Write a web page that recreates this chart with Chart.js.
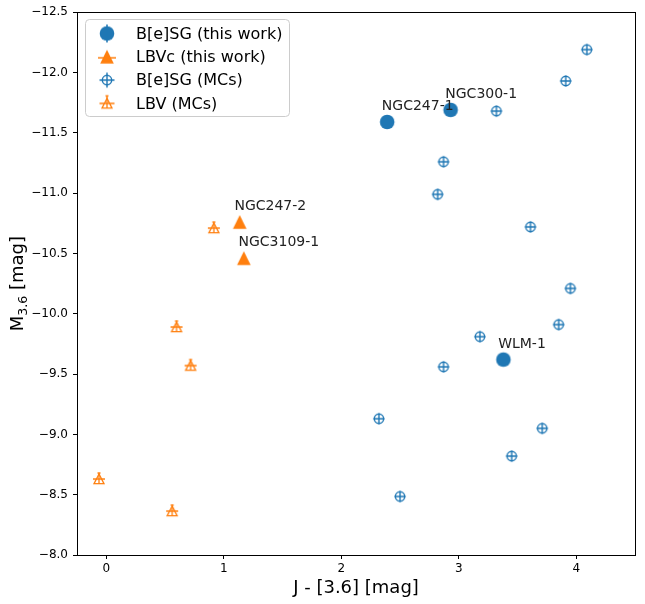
<!DOCTYPE html>
<html>
<head>
<meta charset="utf-8">
<script src="https://cdn.jsdelivr.net/npm/chart.js@4.4.1/dist/chart.umd.min.js"></script>
<style>
    html, body { margin: 0; padding: 0; background: #fff; }
    #wrap { width: 645px; height: 604px; position: relative; }
</style>
</head>
<body>
<div id="wrap"><canvas id="chart"></canvas></div>
<script>
// values
const besgThisWorkNames = ['NGC247-1', 'NGC300-1', 'WLM-1'];
const besgThisWorkX = [2.39, 2.93, 3.38];
const besgThisWorkY = [-11.59, -11.69, -9.62];

const lbvcThisWorkNames = ['NGC247-2', 'NGC3109-1'];
const lbvcThisWorkX = [1.135, 1.17];
const lbvcThisWorkY = [-10.76, -10.46];

const besgMCsX = [4.09, 3.91, 3.32, 2.87, 2.82, 3.61, 3.95, 3.85, 3.18, 2.87, 2.32, 3.71, 2.50, 3.45];
const besgMCsY = [-12.19, -11.93, -11.68, -11.26, -10.99, -10.72, -10.21, -9.91, -9.81, -9.56, -9.13, -9.05, -8.485, -8.82];

const lbvMCsX = [-0.063, 0.56, 0.915, 0.597, 0.717];
const lbvMCsY = [-8.63, -8.364, -10.71, -9.89, -9.57];

const xTicks = [0, 1, 2, 3, 4];
const yTicks = [-12.5, -12.0, -11.5, -11.0, -10.5, -10.0, -9.5, -9.0, -8.5, -8.0];

const legendLabels = ['B[e]SG (this work)', 'LBVc (this work)', 'B[e]SG (MCs)', 'LBV (MCs)'];

const BLUE = '#1f77b4';
const ORANGE = '#ff7f0e';
const FONT = "'DejaVu Sans', sans-serif";

Chart.defaults.font.family = FONT;

function markerCanvas(draw) {
    const c = document.createElement('canvas');
    c.width = 26;
    c.height = 26;
    const g = c.getContext('2d');
    g.translate(13, 13);
    g.lineCap = 'butt';
    draw(g);
    return c;
}

function dot(g) {
    g.fillStyle = BLUE;
    g.beginPath();
    g.arc(0, 0, 7.3, 0, Math.PI * 2);
    g.fill();
}
function tri(g) {
    g.fillStyle = ORANGE;
    g.beginPath();
    g.moveTo(0, -7);
    g.lineTo(-6.8, 6.8);
    g.lineTo(6.8, 6.8);
    g.closePath();
    g.fill();
}
function ring(g, ext) {
    g.strokeStyle = BLUE;
    g.lineWidth = 1.4;
    g.beginPath();
    g.arc(0, 0, 4.7, 0, Math.PI * 2);
    g.stroke();
    g.beginPath();
    g.moveTo(-ext, 0); g.lineTo(ext, 0);
    g.moveTo(0, -ext); g.lineTo(0, ext);
    g.stroke();
}
function openTri(g, ext) {
    g.strokeStyle = ORANGE;
    g.lineWidth = 1.3;
    g.beginPath();
    g.moveTo(0, -5);
    g.lineTo(-5, 4.6);
    g.lineTo(5, 4.6);
    g.closePath();
    g.stroke();
    g.beginPath();
    g.moveTo(0, -ext); g.lineTo(0, 4.6);
    g.moveTo(-ext, 0); g.lineTo(ext, 0);
    g.moveTo(-1.5, -ext); g.lineTo(1.5, -ext);
    g.stroke();
}

const dotMarker = markerCanvas(dot);
const triMarker = markerCanvas(tri);
const ringMarker = markerCanvas(g => ring(g, 5.5));
const openTriMarker = markerCanvas(g => openTri(g, 6));

const legendMarkers = [
    markerCanvas(g => {
        dot(g);
        g.strokeStyle = BLUE; g.lineWidth = 1.5;
        g.beginPath(); g.moveTo(0, -9); g.lineTo(0, 9); g.stroke();
    }),
    markerCanvas(g => {
        tri(g);
        g.strokeStyle = ORANGE; g.lineWidth = 1.5;
        g.beginPath(); g.moveTo(-9, 1); g.lineTo(9, 1); g.stroke();
    }),
    markerCanvas(g => ring(g, 7.5)),
    markerCanvas(g => openTri(g, 7.5))
];

function toPoints(xs, ys) {
    return xs.map((x, i) => ({ x: x, y: ys[i] }));
}

const LABEL_DX = -0.045;
const LABEL_DY = -0.1;

const overlayPlugin = {
    id: 'overlay',
    afterDraw(chart) {
        const ctx = chart.ctx;
        const area = chart.chartArea;
        const xs = chart.scales.x;
        const ys = chart.scales.y;
        ctx.save();

        // frame on all four sides
        ctx.strokeStyle = '#000';
        ctx.lineWidth = 1;
        ctx.strokeRect(Math.round(area.left) + 0.5, Math.round(area.top) + 0.5,
            Math.round(area.right - area.left), Math.round(area.bottom - area.top));

        // point annotations
        ctx.fillStyle = '#222';
        ctx.font = '14px ' + FONT;
        ctx.textAlign = 'left';
        ctx.textBaseline = 'alphabetic';
        const ann = (names, px, py) => names.forEach((n, i) => {
            ctx.fillText(n, xs.getPixelForValue(px[i] + LABEL_DX), ys.getPixelForValue(py[i] + LABEL_DY));
        });
        ann(besgThisWorkNames, besgThisWorkX, besgThisWorkY);
        ann(lbvcThisWorkNames, lbvcThisWorkX, lbvcThisWorkY);

        // axis titles
        ctx.fillStyle = '#000';
        ctx.font = '18px ' + FONT;
        ctx.textAlign = 'center';
        ctx.fillText('J - [3.6] [mag]', (area.left + area.right) / 2, 593);

        ctx.save();
        ctx.translate(23, (area.top + area.bottom) / 2);
        ctx.rotate(-Math.PI / 2);
        ctx.textAlign = 'left';
        const big = '18px ' + FONT;
        const small = '12.6px ' + FONT;
        ctx.font = big;
        const wM = ctx.measureText('M').width;
        const wRest = ctx.measureText(' [mag]').width;
        ctx.font = small;
        const wSub = ctx.measureText('3.6').width;
        let pos = -(wM + wSub + wRest) / 2;
        ctx.font = big;
        ctx.fillText('M', pos, 0);
        pos += wM;
        ctx.font = small;
        ctx.fillText('3.6', pos, 3.5);
        pos += wSub;
        ctx.font = big;
        ctx.fillText(' [mag]', pos, 0);
        ctx.restore();

        // legend box
        const lx = 85.5, ly = 19.5, lw = 204, lh = 97, r = 4;
        ctx.beginPath();
        ctx.moveTo(lx + r, ly);
        ctx.arcTo(lx + lw, ly, lx + lw, ly + lh, r);
        ctx.arcTo(lx + lw, ly + lh, lx, ly + lh, r);
        ctx.arcTo(lx, ly + lh, lx, ly, r);
        ctx.arcTo(lx, ly, lx + lw, ly, r);
        ctx.closePath();
        ctx.fillStyle = 'rgba(255,255,255,0.8)';
        ctx.fill();
        ctx.strokeStyle = '#cccccc';
        ctx.stroke();

        ctx.font = '16px ' + FONT;
        ctx.fillStyle = '#000';
        ctx.textAlign = 'left';
        ctx.textBaseline = 'middle';
        legendLabels.forEach((label, i) => {
            const cy = 33.5 + i * 23.3;
            const m = legendMarkers[i];
            ctx.drawImage(m, 107 - m.width / 2, cy - m.height / 2);
            ctx.fillText(label, 136, cy + 1);
        });

        ctx.restore();
    }
};

const tickFmtY = v => v.toFixed(1).replace('-', '\u2212');

const ctx = document.getElementById('chart').getContext('2d');
const chart = new Chart(ctx, {
    type: 'scatter',
    data: {
        datasets: [
            {
                label: legendLabels[0],
                data: toPoints(besgThisWorkX, besgThisWorkY),
                pointStyle: dotMarker,
                backgroundColor: BLUE,
                borderColor: BLUE
            },
            {
                label: legendLabels[1],
                data: toPoints(lbvcThisWorkX, lbvcThisWorkY),
                pointStyle: triMarker,
                backgroundColor: ORANGE,
                borderColor: ORANGE
            },
            {
                label: legendLabels[2],
                data: toPoints(besgMCsX, besgMCsY),
                pointStyle: ringMarker,
                backgroundColor: BLUE,
                borderColor: BLUE
            },
            {
                label: legendLabels[3],
                data: toPoints(lbvMCsX, lbvMCsY),
                pointStyle: openTriMarker,
                backgroundColor: ORANGE,
                borderColor: ORANGE
            }
        ]
    },
    options: {
        responsive: true,
        maintainAspectRatio: false,
        devicePixelRatio: 1,
        animation: false,
        events: [],
        layout: { padding: { top: 12, right: 10, left: 0, bottom: 0 } },
        plugins: {
            legend: { display: false },
            tooltip: { enabled: false }
        },
        scales: {
            x: {
                type: 'linear',
                min: -0.25,
                max: 4.5,
                afterBuildTicks: s => { s.ticks = xTicks.map(v => ({ value: v })); },
                afterFit: s => { s.height = 49; },
                grid: { drawOnChartArea: false, drawTicks: true, tickLength: 4, tickColor: '#000' },
                border: { display: false },
                ticks: { color: '#000', font: { size: 12 }, padding: 3, maxRotation: 0, callback: v => String(v) }
            },
            y: {
                type: 'linear',
                min: -12.5,
                max: -8,
                reverse: true,
                afterBuildTicks: s => { s.ticks = yTicks.map(v => ({ value: v })); },
                afterFit: s => { s.width = 77; },
                grid: { drawOnChartArea: false, drawTicks: true, tickLength: 4, tickColor: '#000' },
                border: { display: false },
                ticks: { color: '#000', font: { size: 12 }, padding: 5, callback: tickFmtY }
            }
        }
    },
    plugins: [overlayPlugin]
});
</script>
</body>
</html>
